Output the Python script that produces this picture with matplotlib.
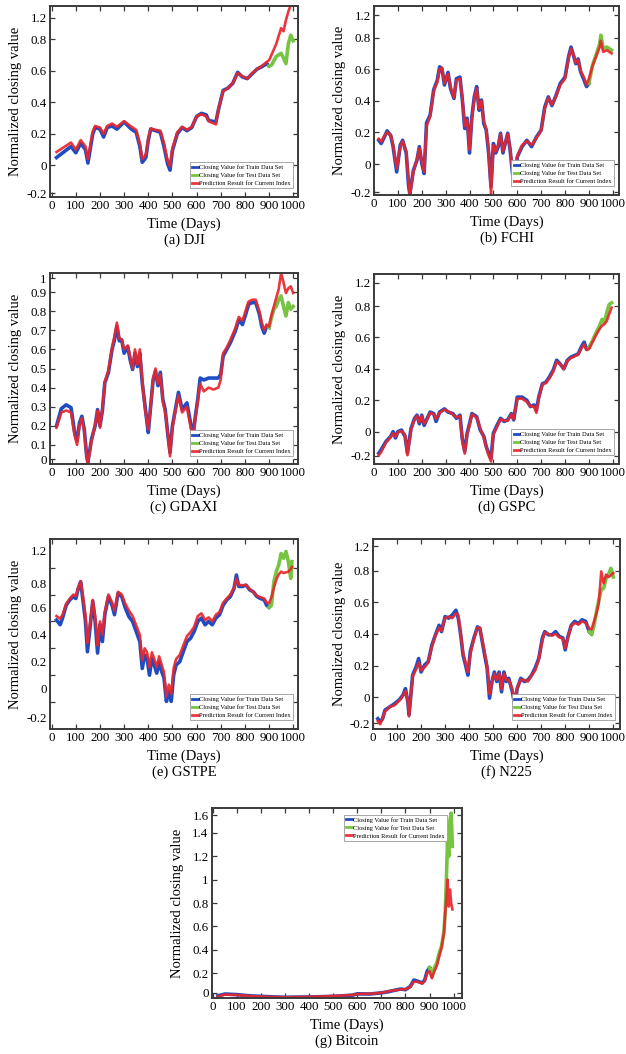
import matplotlib
matplotlib.use('Agg')
import matplotlib.pyplot as plt
from matplotlib.ticker import FixedLocator
import numpy as np

plt.rcParams['font.family'] = ['Liberation Serif', 'DejaVu Serif']

#%% Closing values (normalized) read per index: train days, train, prediction, test

dji_days = [20, 50, 80, 100, 120, 140, 150, 170, 180, 200, 215, 230, 250, 270, 300, 330, 350, 365, 375, 390,
            400, 410, 430, 450, 465, 480, 490, 500, 520, 540, 560, 580, 600, 620, 640, 650, 680, 690, 710, 730,
            750, 770, 790, 810, 830, 850, 870, 890, 900]
dji_train = [0.05, 0.085, 0.12, 0.08, 0.14, 0.10, 0.015, 0.20, 0.24, 0.23, 0.18, 0.24, 0.25, 0.23, 0.275, 0.23, 0.21, 0.12, 0.02, 0.05,
             0.16, 0.23, 0.22, 0.21, 0.12, 0.01, -0.03, 0.095, 0.20, 0.24, 0.22, 0.24, 0.31, 0.33, 0.32, 0.285, 0.275, 0.35, 0.475, 0.49,
             0.52, 0.59, 0.56, 0.55, 0.58, 0.61, 0.625, 0.645, 0.63]
dji_pred = [0.085, 0.115, 0.145, 0.10, 0.16, 0.12, 0.04, 0.215, 0.25, 0.24, 0.20, 0.25, 0.265, 0.245, 0.28, 0.245, 0.225, 0.14, 0.04, 0.07,
            0.17, 0.235, 0.225, 0.22, 0.14, 0.03, -0.005, 0.11, 0.21, 0.245, 0.225, 0.245, 0.31, 0.325, 0.31, 0.28, 0.26, 0.355, 0.47, 0.49,
            0.52, 0.585, 0.565, 0.55, 0.585, 0.61, 0.63, 0.655, 0.665]
dji_test_days = [900, 910, 930, 950, 960, 970, 980, 990, 1000]
dji_test = [0.63, 0.635, 0.69, 0.71, 0.68, 0.645, 0.77, 0.825, 0.79]
dji_pred_test = [0.665, 0.70, 0.77, 0.87, 0.85, 0.92, 0.975, 1.015, 1.06]

fchi_days = [20, 30, 40, 55, 70, 80, 95, 110, 120, 135, 145, 150, 165, 180, 190, 200, 210, 220, 235, 250,
             265, 275, 285, 295, 310, 320, 335, 345, 360, 370, 380, 390, 400, 410, 420, 430, 440, 450, 460, 470,
             480, 490, 500, 510, 520, 530, 540, 560, 570, 580, 590, 600, 620, 640, 660, 680, 700, 715, 730, 745,
             760, 780, 800, 815, 825, 835, 845, 855, 865, 880, 890, 900]
fchi_train = [0.15, 0.13, 0.16, 0.21, 0.18, 0.11, -0.05, 0.12, 0.15, 0.07, -0.14, -0.19, -0.04, 0.025, 0.11, 0.005, -0.06, 0.26, 0.31, 0.47,
              0.53, 0.615, 0.60, 0.50, 0.58, 0.48, 0.415, 0.54, 0.55, 0.405, 0.225, 0.29, 0.07, 0.30, 0.425, 0.49, 0.34, 0.405, 0.255, 0.215,
              0.07, -0.145, 0.13, 0.07, 0.11, 0.195, 0.07, 0.195, 0.09, -0.06, -0.11, 0.045, 0.11, 0.15, 0.11, 0.17, 0.215, 0.36, 0.425, 0.37,
              0.425, 0.51, 0.55, 0.68, 0.74, 0.69, 0.635, 0.665, 0.585, 0.53, 0.49, 0.51]
fchi_pred = [0.16, 0.14, 0.17, 0.20, 0.185, 0.12, -0.03, 0.11, 0.145, 0.08, -0.12, -0.20, -0.05, 0.03, 0.10, 0.02, -0.05, 0.24, 0.30, 0.46,
             0.52, 0.60, 0.61, 0.51, 0.57, 0.49, 0.42, 0.53, 0.54, 0.42, 0.24, 0.28, 0.09, 0.29, 0.41, 0.48, 0.35, 0.40, 0.27, 0.22,
             0.09, -0.19, 0.12, 0.08, 0.12, 0.19, 0.08, 0.19, 0.10, -0.04, -0.09, 0.05, 0.12, 0.145, 0.12, 0.165, 0.21, 0.35, 0.42, 0.375,
             0.42, 0.50, 0.54, 0.67, 0.73, 0.695, 0.64, 0.66, 0.59, 0.545, 0.50, 0.54]
fchi_test_days = [900, 915, 930, 945, 950, 960, 975, 985, 995]
fchi_test = [0.51, 0.625, 0.69, 0.76, 0.815, 0.73, 0.74, 0.73, 0.72]
fchi_pred_test = [0.54, 0.62, 0.68, 0.74, 0.78, 0.71, 0.72, 0.71, 0.70]

gdaxi_days = [20, 40, 60, 80, 95, 105, 115, 125, 135, 145, 150, 165, 180, 190, 200, 210, 220, 235, 250, 260,
              270, 280, 290, 300, 315, 325, 335, 345, 355, 365, 375, 385, 395, 400, 410, 420, 430, 440, 450, 460,
              470, 480, 490, 500, 510, 525, 540, 560, 570, 585, 595, 605, 615, 630, 650, 670, 690, 700, 710, 725,
              740, 760, 775, 790, 805, 815, 830, 845, 860, 870, 880, 890, 900]
gdaxi_train = [0.20, 0.29, 0.31, 0.295, 0.165, 0.12, 0.215, 0.25, 0.18, 0.04, 0.01, 0.13, 0.20, 0.285, 0.20, 0.28, 0.425, 0.48, 0.60, 0.65,
               0.72, 0.645, 0.65, 0.58, 0.615, 0.545, 0.495, 0.58, 0.51, 0.58, 0.425, 0.32, 0.215, 0.165, 0.305, 0.44, 0.485, 0.41, 0.48, 0.34,
               0.285, 0.165, 0.06, 0.20, 0.27, 0.375, 0.285, 0.32, 0.25, 0.145, 0.25, 0.34, 0.45, 0.44, 0.45, 0.45, 0.45, 0.47, 0.565, 0.60,
               0.635, 0.695, 0.755, 0.73, 0.79, 0.835, 0.845, 0.845, 0.785, 0.72, 0.685, 0.72, 0.715]
gdaxi_pred = [0.19, 0.27, 0.28, 0.27, 0.15, 0.10, 0.20, 0.24, 0.17, 0.03, 0.005, 0.12, 0.21, 0.28, 0.19, 0.29, 0.43, 0.49, 0.61, 0.67,
              0.74, 0.66, 0.65, 0.60, 0.62, 0.56, 0.50, 0.60, 0.52, 0.60, 0.44, 0.30, 0.22, 0.18, 0.30, 0.45, 0.50, 0.42, 0.47, 0.33,
              0.27, 0.17, 0.04, 0.19, 0.26, 0.36, 0.27, 0.30, 0.23, 0.13, 0.24, 0.33, 0.42, 0.38, 0.40, 0.39, 0.40, 0.44, 0.58, 0.61,
              0.65, 0.71, 0.77, 0.75, 0.81, 0.85, 0.86, 0.86, 0.80, 0.74, 0.70, 0.73, 0.72]
gdaxi_test_days = [900, 910, 920, 930, 940, 950, 960, 970, 980, 990, 1000]
gdaxi_test = [0.715, 0.765, 0.81, 0.825, 0.86, 0.88, 0.825, 0.775, 0.845, 0.81, 0.825]
gdaxi_pred_test = [0.72, 0.78, 0.825, 0.87, 0.915, 1.0, 0.95, 0.895, 0.92, 0.93, 0.895]

gspc_days = [20, 30, 50, 70, 80, 90, 100, 115, 130, 140, 155, 170, 180, 190, 200, 210, 220, 235, 250, 260,
             275, 295, 310, 330, 345, 360, 370, 380, 390, 400, 410, 420, 430, 445, 460, 470, 480, 490, 500, 515,
             530, 545, 560, 575, 585, 600, 620, 640, 655, 670, 680, 690, 705, 720, 735, 750, 765, 780, 795, 810,
             825, 840, 855, 870, 880, 890, 900]
gspc_train = [-0.137, -0.115, -0.063, -0.03, 0.0, -0.04, 0.0, 0.01, -0.03, -0.137, 0.02, 0.085, 0.105, 0.05, 0.105, 0.04, 0.075, 0.125, 0.115, 0.065,
              0.125, 0.145, 0.125, 0.115, 0.085, 0.105, -0.05, -0.125, -0.01, 0.05, 0.115, 0.105, 0.095, 0.01, -0.03, -0.095, -0.137, -0.17, -0.01, 0.04,
              0.085, 0.065, 0.075, 0.115, 0.075, 0.22, 0.22, 0.20, 0.16, 0.17, 0.135, 0.22, 0.305, 0.315, 0.35, 0.39, 0.455, 0.43, 0.40, 0.455,
              0.475, 0.485, 0.495, 0.545, 0.57, 0.525, 0.535]
gspc_pred = [-0.15, -0.13, -0.07, -0.035, -0.01, -0.03, -0.005, 0.005, -0.02, -0.15, 0.01, 0.08, 0.10, 0.06, 0.10, 0.05, 0.07, 0.12, 0.11, 0.08,
             0.12, 0.14, 0.13, 0.11, 0.09, 0.10, -0.06, -0.14, -0.02, 0.04, 0.11, 0.10, 0.09, 0.02, -0.04, -0.10, -0.15, -0.19, -0.02, 0.03,
             0.08, 0.07, 0.07, 0.11, 0.08, 0.21, 0.21, 0.19, 0.16, 0.16, 0.12, 0.21, 0.30, 0.31, 0.34, 0.38, 0.445, 0.43, 0.40, 0.45,
             0.47, 0.48, 0.49, 0.535, 0.555, 0.52, 0.525]
gspc_test_days = [900, 915, 930, 945, 955, 965, 975, 985, 995]
gspc_test = [0.535, 0.58, 0.63, 0.675, 0.715, 0.695, 0.76, 0.81, 0.82]
gspc_pred_test = [0.525, 0.57, 0.615, 0.655, 0.675, 0.685, 0.705, 0.75, 0.79]

gstpe_days = [20, 35, 45, 60, 75, 90, 100, 110, 120, 130, 140, 148, 160, 170, 180, 190, 200, 210, 220, 235,
              250, 260, 275, 290, 305, 320, 335, 350, 365, 375, 385, 395, 405, 415, 425, 435, 445, 455, 465, 475,
              485, 495, 505, 515, 530, 545, 560, 575, 590, 605, 620, 635, 650, 665, 680, 695, 710, 725, 740, 755,
              765, 775, 790, 805, 820, 835, 850, 865, 880, 890, 900]
gstpe_train = [0.61, 0.575, 0.625, 0.72, 0.76, 0.785, 0.77, 0.845, 0.895, 0.75, 0.60, 0.375, 0.575, 0.75, 0.60, 0.365, 0.575, 0.45, 0.65, 0.785,
               0.72, 0.65, 0.81, 0.785, 0.70, 0.635, 0.60, 0.525, 0.45, 0.25, 0.35, 0.325, 0.20, 0.325, 0.275, 0.215, 0.30, 0.23, 0.18, 0.005,
               0.08, 0.005, 0.20, 0.275, 0.30, 0.375, 0.45, 0.475, 0.525, 0.60, 0.625, 0.575, 0.60, 0.575, 0.625, 0.65, 0.72, 0.76, 0.785, 0.845,
               0.945, 0.86, 0.86, 0.87, 0.835, 0.82, 0.785, 0.77, 0.76, 0.72, 0.705]
gstpe_pred = [0.64, 0.62, 0.65, 0.73, 0.77, 0.80, 0.79, 0.85, 0.90, 0.78, 0.64, 0.44, 0.60, 0.76, 0.64, 0.42, 0.60, 0.50, 0.67, 0.80,
              0.74, 0.68, 0.82, 0.80, 0.73, 0.68, 0.64, 0.57, 0.50, 0.31, 0.40, 0.37, 0.26, 0.37, 0.32, 0.26, 0.34, 0.28, 0.22, 0.04,
              0.13, 0.06, 0.25, 0.32, 0.35, 0.42, 0.49, 0.52, 0.56, 0.64, 0.66, 0.61, 0.63, 0.60, 0.65, 0.67, 0.74, 0.77, 0.80, 0.85,
              0.92, 0.87, 0.87, 0.87, 0.84, 0.82, 0.79, 0.78, 0.77, 0.74, 0.735]
gstpe_test_days = [900, 910, 920, 930, 940, 950, 960, 970, 980, 990, 995]
gstpe_test = [0.705, 0.72, 0.895, 0.97, 1.02, 1.105, 1.07, 1.12, 1.045, 0.92, 1.045]
gstpe_pred_test = [0.735, 0.78, 0.85, 0.91, 0.95, 0.97, 0.96, 0.965, 0.97, 0.99, 1.005]

n225_days = [20, 30, 40, 50, 70, 90, 110, 125, 135, 145, 150, 165, 180, 190, 200, 215, 230, 245, 260, 275,
             285, 300, 315, 330, 345, 355, 365, 375, 385, 395, 405, 420, 435, 445, 455, 465, 475, 485, 495, 505,
             515, 525, 535, 545, 555, 565, 580, 590, 600, 615, 630, 645, 660, 675, 690, 705, 715, 730, 745, 760,
             775, 790, 800, 810, 825, 840, 855, 870, 885, 900]
n225_train = [-0.135, -0.155, -0.135, -0.08, -0.06, -0.04, -0.015, 0.015, 0.055, -0.03, -0.11, 0.14, 0.195, 0.245, 0.16, 0.205, 0.225, 0.33, 0.395, 0.455,
              0.415, 0.51, 0.50, 0.52, 0.55, 0.50, 0.395, 0.265, 0.205, 0.14, 0.29, 0.375, 0.445, 0.435, 0.35, 0.265, 0.185, -0.005, 0.10, 0.16,
              0.10, 0.16, 0.035, 0.16, 0.10, 0.12, 0.035, -0.05, 0.055, 0.12, 0.10, 0.11, 0.14, 0.185, 0.245, 0.375, 0.415, 0.395, 0.395, 0.415,
              0.385, 0.375, 0.30, 0.375, 0.455, 0.48, 0.465, 0.49, 0.48, 0.415]
n225_pred = [-0.15, -0.17, -0.13, -0.09, -0.06, -0.05, -0.02, 0.01, 0.04, -0.02, -0.12, 0.13, 0.18, 0.22, 0.17, 0.19, 0.22, 0.32, 0.39, 0.44,
             0.42, 0.50, 0.51, 0.50, 0.53, 0.52, 0.40, 0.28, 0.22, 0.16, 0.27, 0.37, 0.44, 0.44, 0.36, 0.28, 0.20, 0.02, 0.09, 0.15,
             0.11, 0.15, 0.05, 0.15, 0.11, 0.11, 0.05, -0.03, 0.06, 0.11, 0.11, 0.10, 0.14, 0.17, 0.24, 0.36, 0.41, 0.40, 0.39, 0.40,
             0.38, 0.37, 0.31, 0.37, 0.45, 0.47, 0.46, 0.48, 0.47, 0.435]
n225_test_days = [900, 910, 920, 930, 940, 950, 960, 970, 980, 990, 1000]
n225_test = [0.415, 0.395, 0.455, 0.54, 0.615, 0.68, 0.69, 0.75, 0.775, 0.815, 0.76]
n225_pred_test = [0.435, 0.43, 0.48, 0.53, 0.60, 0.795, 0.72, 0.775, 0.76, 0.77, 0.785]

btc_days = [20, 50, 100, 150, 200, 300, 400, 500, 580, 600, 650, 700, 730, 750, 780, 800, 820, 835, 850, 870, 880, 890, 900]
btc_train = [0.005, 0.02, 0.015, 0.005, 0.0, -0.008, -0.005, 0.0, 0.01, 0.022, 0.02, 0.03, 0.04, 0.05, 0.063, 0.057, 0.085, 0.14, 0.13, 0.115,
             0.14, 0.215, 0.245]
btc_pred = [0.0, 0.015, 0.012, 0.003, -0.002, -0.008, -0.004, 0.003, 0.012, 0.02, 0.022, 0.03, 0.045, 0.05, 0.06, 0.06, 0.08, 0.125, 0.125, 0.11,
            0.13, 0.20, 0.215]
btc_test_days = [900, 910, 920, 930, 940, 950, 960, 965, 970, 975, 980, 985, 990, 995]
btc_test = [0.245, 0.17, 0.245, 0.285, 0.37, 0.43, 0.555, 0.71, 1.0, 1.34, 1.2, 1.51, 1.57, 1.285]
btc_pred_test = [0.215, 0.155, 0.215, 0.26, 0.34, 0.415, 0.545, 0.71, 0.83, 1.0, 0.77, 0.915, 0.80, 0.745]

# y tick labels and where they sit on each axis
lab_std = ['-0.2', '0', '0.2', '0.4', '0.6', '0.8', '1.2']
lab_gdaxi = ['0', '0.1', '0.2', '0.3', '0.4', '0.5', '0.6', '0.7', '0.8', '0.9', '1']
lab_btc = ['0', '0.2', '0.4', '0.6', '0.8', '1', '1.2', '1.4', '1.6']

legend_labels = ['Closing Value for Train Data Set', 'Closing Value for Test Data Set',
                 'Prediction Result for Current Index']

TRAIN_C = '#1f4cc2'
TEST_C = '#76c442'
PRED_C = '#e8262c'
SPINE_C = '#3a3a3a'

W, H = 626, 1054
fig = plt.figure(figsize=(W / 100, H / 100), dpi=100)


def draw_panel(box, xlim, ylim, ytick_pos, ytick_lab, days, train, pred, tdays, test, ptest,
               ylabel, caption, leg_loc, leg_anchor, marks=None):
    if not (len(days) == len(train) == len(pred)) or not (len(tdays) == len(test) == len(ptest)):
        raise ValueError('length mismatch for ' + caption)
    l, t, r, b = box
    ax = fig.add_axes([l / W, 1 - b / H, (r - l) / W, (b - t) / H])
    h1, = ax.plot(days, train, color=TRAIN_C, lw=2.6, solid_joinstyle='round')
    h2, = ax.plot(tdays, test, color=TEST_C, lw=2.6, solid_joinstyle='round')
    h3, = ax.plot(list(days) + list(tdays[1:]), list(pred) + list(ptest[1:]),
                  color=PRED_C, lw=1.9, alpha=0.92, solid_joinstyle='round')
    ax.set_xlim(*xlim)
    ax.set_ylim(*ylim)
    ax.set_xticks(np.arange(0, 1001, 100))
    ax.set_yticks(ytick_pos)
    ax.set_yticklabels(ytick_lab)
    ax.tick_params(axis='both', which='both', direction='in', top=True, right=True,
                   length=3.5, width=0.9, color=SPINE_C, labelsize=9.3, pad=2.5)
    if marks is not None:
        # labels float between the marks on this axis
        ax.yaxis.set_minor_locator(FixedLocator(marks))
        ax.tick_params(axis='y', which='major', length=0)
    for sp in ax.spines.values():
        sp.set_color(SPINE_C)
        sp.set_linewidth(1.4)
    leg = ax.legend([h1, h2, h3], legend_labels, loc=leg_loc, bbox_to_anchor=leg_anchor,
                    borderaxespad=0, fontsize=4.6, handlelength=0.8, handletextpad=0.25,
                    labelspacing=0.4, borderpad=0.35, fancybox=False, framealpha=1)
    leg.get_frame().set_edgecolor('#999999')
    leg.get_frame().set_linewidth(0.6)
    for ln in leg.get_lines():
        ln.set_linewidth(2.0)
    cx = (l + r) / 2 + 10
    fig.text(cx / W, 1 - (b + 27) / H, 'Time (Days)', ha='center', va='center', fontsize=10.5)
    fig.text(cx / W, 1 - (b + 43) / H, caption, ha='center', va='center', fontsize=10.5)
    fig.text((l - 34) / W, 1 - (t + b) / 2 / H, ylabel, ha='center', va='center',
             rotation=90, fontsize=10.5)
    return ax


ylab = 'Normalized closing value'

draw_panel((50, 6, 298, 197), (-7, 1020), (-0.2, 1.01), [-0.175, 0, 0.2, 0.4, 0.6, 0.8, 0.937], lab_std,
           dji_days, dji_train, dji_pred, dji_test_days, dji_test, dji_pred_test,
           ylab, '(a) DJI', 'lower right', (0.98, 0.045))
draw_panel((374, 6, 619, 195), (0, 1026), (-0.196, 1.0), [-0.18, 0, 0.2, 0.4, 0.6, 0.8, 0.94], lab_std,
           fchi_days, fchi_train, fchi_pred, fchi_test_days, fchi_test, fchi_pred_test,
           ylab, '(b) FCHI', 'lower right', (0.98, 0.045))
draw_panel((50, 273, 298, 464), (-7, 1020), (0, 1.0),
           [0.026, 0.1, 0.2, 0.3, 0.4, 0.5, 0.6, 0.7, 0.8, 0.9, 0.973], lab_gdaxi,
           gdaxi_days, gdaxi_train, gdaxi_pred, gdaxi_test_days, gdaxi_test, gdaxi_pred_test,
           ylab, '(c) GDAXI', 'lower right', (0.98, 0.04))
draw_panel((374, 274, 619, 464), (0, 1026), (-0.206, 1.004), [-0.153, 0, 0.2, 0.4, 0.6, 0.8, 0.949], lab_std,
           gspc_days, gspc_train, gspc_pred, gspc_test_days, gspc_test, gspc_pred_test,
           ylab, '(d) GSPC', 'lower right', (0.98, 0.045))
draw_panel((50, 539, 298, 729), (-7, 1020), (-0.2, 1.213),
           [-0.114, 0.104, 0.302, 0.5, 0.703, 0.884, 1.124], lab_std,
           gstpe_days, gstpe_train, gstpe_pred, gstpe_test_days, gstpe_test, gstpe_pred_test,
           ylab, '(e) GSTPE', 'lower right', (0.98, 0.045), marks=[0, 0.2, 0.4, 0.6, 0.8, 1.0])
draw_panel((373, 539, 620, 729), (0, 1028), (-0.2, 1.0), [-0.165, 0, 0.2, 0.4, 0.6, 0.8, 0.953], lab_std,
           n225_days, n225_train, n225_pred, n225_test_days, n225_test, n225_pred_test,
           'Nomalized closing value', '(f) N225', 'lower right', (0.98, 0.045))
draw_panel((212, 808, 462, 998), (-4, 1035), (-0.014, 1.614),
           [0.029, 0.2, 0.4, 0.6, 0.8, 1.0, 1.2, 1.4, 1.551], lab_btc,
           btc_days, btc_train, btc_pred, btc_test_days, btc_test, btc_pred_test,
           ylab, '(g) Bitcoin', 'upper right', (0.94, 0.965))

fig.savefig('out.png', dpi=100)
